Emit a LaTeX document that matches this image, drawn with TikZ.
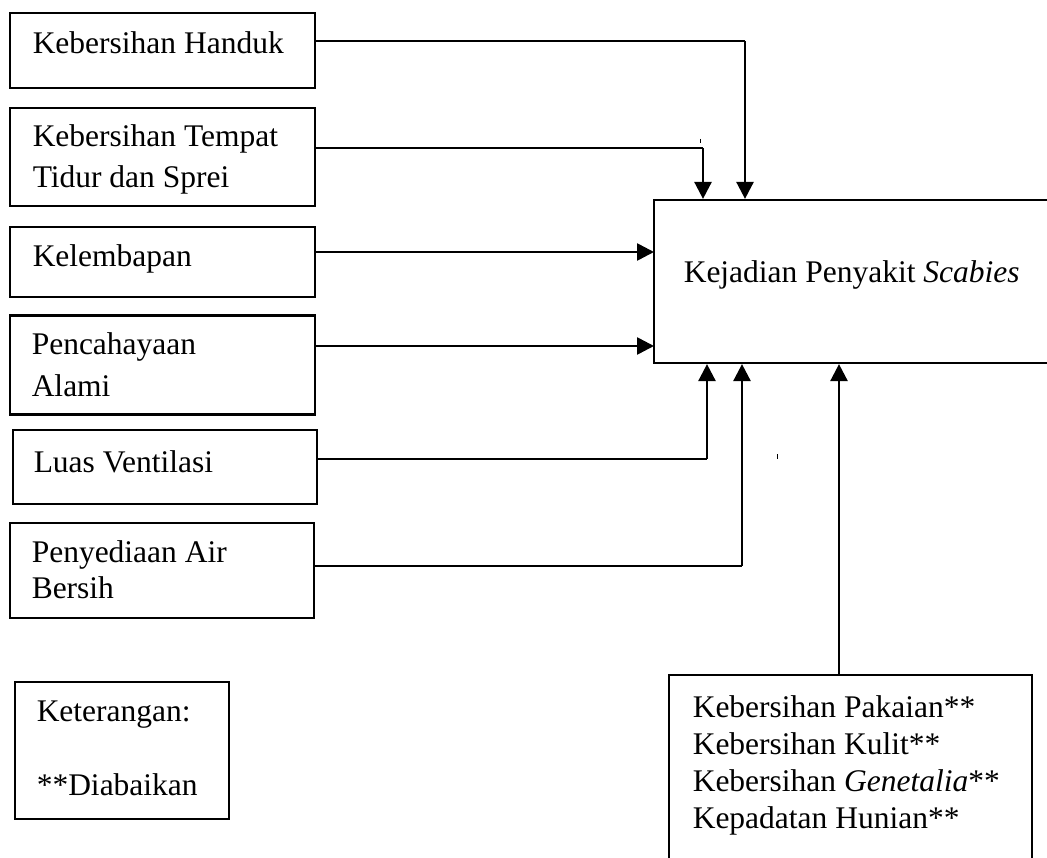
\documentclass[tikz,border=0pt]{standalone}
\usepackage{fontspec}
\setmainfont{Liberation Serif}
\usetikzlibrary{arrows.meta}

\tikzset{every picture/.style={line width=1.5pt}}
\tikzset{
  box/.style={draw, line width=2.2pt, rectangle, inner sep=0pt},
  txt/.style={anchor=base west, inner sep=0pt, align=left},
  link/.style={line width=1.4pt},
  arrowto/.style={line width=2.6pt, -{Triangle[length=17pt,width=17pt]}}
}

\begin{document}
\begin{tikzpicture}[x=1pt,y=1pt,yscale=-1,xscale=1]
\fontsize{31.5}{42}\selectfont
\useasboundingbox (0,0) rectangle (1047,858);
\clip (0,0) rectangle (1047,858);

%Shape: Rectangle [id:handuk]
\node[box, minimum width=305pt, minimum height=75pt] (handuk) at (162.5,50.5) {};
%Shape: Rectangle [id:tempat]
\node[box, minimum width=305pt, minimum height=98pt] (tempat) at (162.5,157) {};
%Shape: Rectangle [id:lembap]
\node[box, minimum width=305pt, minimum height=70pt] (lembap) at (162.5,262) {};
%Shape: Rectangle [id:cahaya]
\node[box, minimum width=305pt, minimum height=99pt] (cahaya) at (162.5,365) {};
%Shape: Rectangle [id:luas]
\node[box, minimum width=304pt, minimum height=74pt] (luas) at (165,467) {};
%Shape: Rectangle [id:sedia]
\node[box, minimum width=304pt, minimum height=95pt] (sedia) at (162,570.5) {};
%Shape: Rectangle [id:scabies]
\node[box, minimum width=410pt, minimum height=163pt] (scabies) at (859,281.5) {};
%Shape: Rectangle [id:ket]
\node[box, minimum width=214pt, minimum height=137pt] (ket) at (122,750.5) {};
%Shape: Rectangle [id:abaikan]
\node[box, minimum width=363pt, minimum height=200pt] (abaikan) at (850.5,775) {};

% Text Node (base = last line)
\node[txt] (tHanduk) at (32,54) {Kebersihan Handuk};
% Text Node
\node[txt] (tTempat) at (32,188) {Kebersihan Tempat\\[-1pt]Tidur dan Sprei};
% Text Node
\node[txt] (tLembap) at (32,267) {Kelembapan};
% Text Node
\node[txt] (tCahaya) at (31,397) {Pencahayaan\\Alami};
% Text Node
\node[txt] (tLuas) at (33,472) {Luas Ventilasi};
% Text Node
\node[txt] (tSedia) at (31,598) {Penyediaan Air\\[-6pt]Bersih};
% Text Node
\node[txt] (tScabies) at (683,283) {Kejadian Penyakit \textit{Scabies}};
% Text Node
\node[txt] (tKet) at (36,795) {Keterangan:\\[32pt]**Diabaikan};
% Text Node
\node[txt] (tAbaikan) at (692,828) {Kebersihan Pakaian**\\[-5pt]Kebersihan Kulit**\\[-5pt]Kebersihan \textit{Genetalia}**\\[-5pt]Kepadatan Hunian**};

% bends of the connectors
\coordinate (kHanduk) at (745,41);
\coordinate (kTempat) at (703,148);
\coordinate (kLembap) at (654,252);
\coordinate (kCahaya) at (654,346);
\coordinate (kLuas) at (707,459);
\coordinate (kSedia) at (742,566);
\coordinate (kBawah) at (839,675);

%Straight Lines
\draw[link] (handuk.east |- kHanduk) -- (kHanduk);
\draw[arrowto] (kHanduk) -- (kHanduk |- scabies.north);
\draw[link] (tempat.east |- kTempat) -- (kTempat);
\draw[arrowto] (kTempat) -- (kTempat |- scabies.north);
\draw[arrowto] (lembap.east |- kLembap) -- (kLembap);
\draw[arrowto] (cahaya.east |- kCahaya) -- (kCahaya);
\draw[link] (luas.east |- kLuas) -- (kLuas);
\draw[arrowto] (kLuas) -- (kLuas |- scabies.south);
\draw[link] ([xshift=-2pt]sedia.east |- kSedia) -- (kSedia);
\draw[arrowto] (kSedia) -- (kSedia |- scabies.south);
\draw[arrowto] (kBawah) -- (kBawah |- scabies.south);

% small ticks
\draw[line width=1pt] (700,139) -- (700,143);
\draw[line width=1pt] (777,454) -- (777,459);

\end{tikzpicture}
\end{document}
